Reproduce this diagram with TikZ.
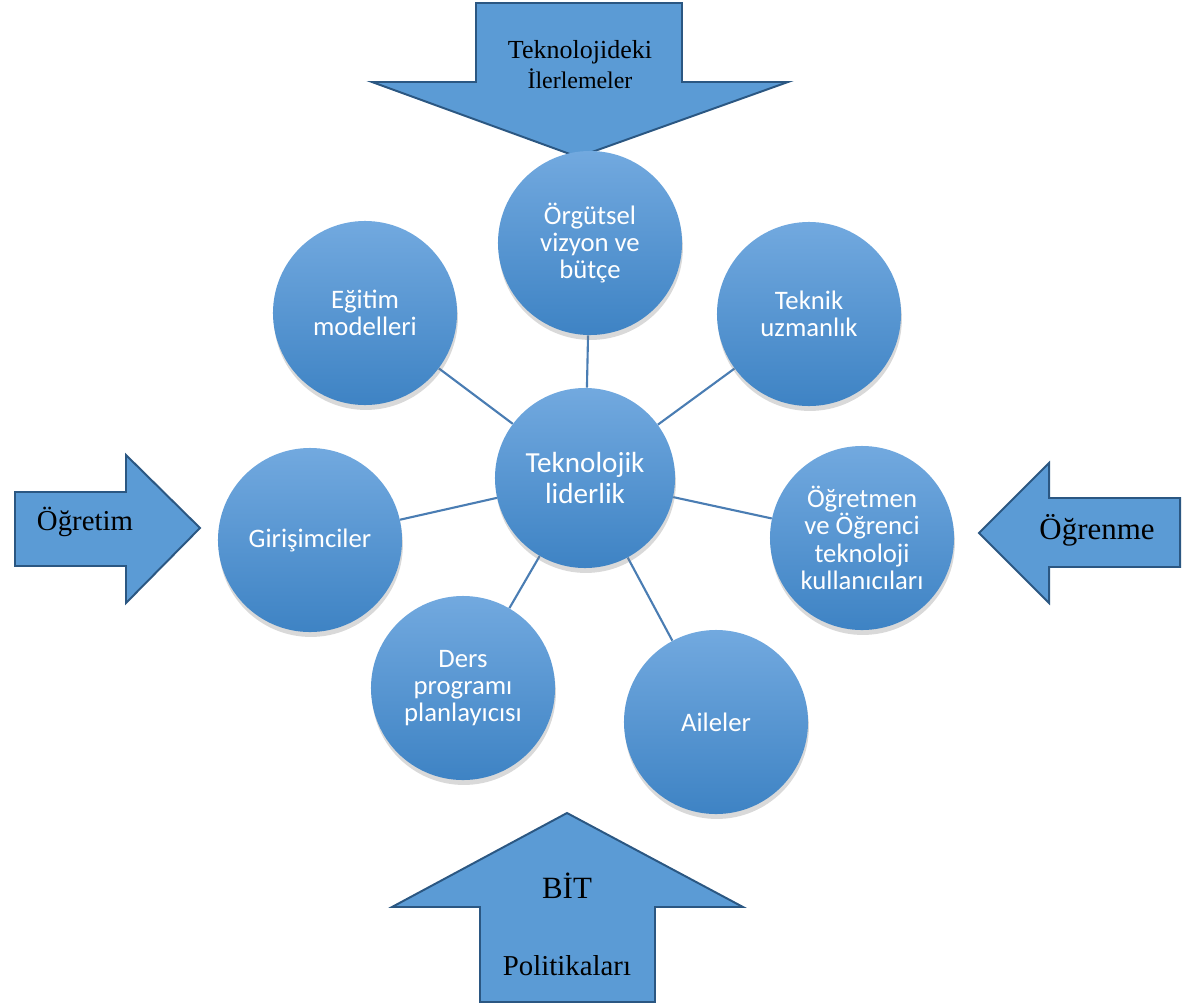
\documentclass[tikz,border=0pt]{standalone}
\usepackage{fontspec}
\setmainfont{Liberation Serif}
\newfontfamily\ballfont{Carlito}
\usetikzlibrary{shadows,shapes,arrows,positioning,backgrounds}

\definecolor{ballTop}{HTML}{72A9DF}
\definecolor{ballBottom}{HTML}{3E83C4}
\definecolor{spokeBlue}{HTML}{4A7DB3}
\definecolor{arrowFill}{HTML}{5B9BD5}
\definecolor{arrowLine}{HTML}{2B5782}

\tikzset{
  ball/.style={circle, minimum size=4.6cm, inner sep=0pt, align=center,
    top color=ballTop, bottom color=ballBottom, text=white,
    font=\ballfont\fontsize{19}{19.5}\selectfont,
    drop shadow={shadow xshift=0.6pt, shadow yshift=-3.5pt, opacity=0.3}},
  spoke/.style={draw=spokeBlue, line width=1.5pt},
  bigarrow/.style={fill=arrowFill, draw=arrowLine, line width=1.4pt, line join=miter},
  arrowtext/.style={align=center, inner sep=0pt, text=black}
}

\begin{document}
\begin{tikzpicture}[x=0.025cm, y=-0.025cm]
  \useasboundingbox (0,0) rectangle (1182,1005);

  % outer arrows
  \draw[bigarrow] (476,3) -- (682,3) -- (682,82) -- (788,82) -- (578,157)
    -- (372,82) -- (476,82) -- cycle;
  \draw[bigarrow] (15,492) -- (126,492) -- (126,455) -- (200,528)
    -- (126,603) -- (126,566) -- (15,566) -- cycle;
  \draw[bigarrow] (1180,498) -- (1049,498) -- (1049,463) -- (979,533)
    -- (1049,603) -- (1049,567) -- (1180,567) -- cycle;
  \draw[bigarrow] (567,813) -- (743,907) -- (655,907) -- (655,1002)
    -- (480,1002) -- (480,907) -- (392,907) -- cycle;

  \node[arrowtext, font=\fontsize{18.5}{21.3}\selectfont] (advances) at (580,65)
    {Teknolojideki\\{\fontsize{17}{21.3}\selectfont İlerlemeler}};
  \node[arrowtext, font=\fontsize{20.5}{24}\selectfont] (teaching) at (85,522) {Öğretim};
  \node[arrowtext, font=\fontsize{22}{26}\selectfont] (learning) at (1097,530) {Öğrenme};
  \node[arrowtext, font=\fontsize{22}{26}\selectfont] (bit) at (567,886) {BİT};
  \node[arrowtext, font=\fontsize{20.5}{24}\selectfont] (policies) at (567,966) {Politikaları};

  % circles
  \node[ball, minimum size=4.5cm, font=\ballfont\fontsize{20.7}{21.5}\selectfont] (leader) at (585,478) {Teknolojik\\liderlik};
  \node[ball] (vision) at (590,243) {Örgütsel\\vizyon ve\\bütçe};
  \node[ball] (models) at (365,313) {Eğitim\\modelleri};
  \node[ball] (expert) at (809,314) {Teknik\\uzmanlık};
  \node[ball] (founders) at (310,540) {Girişimciler};
  \node[ball] (users) at (862,538) {Öğretmen\\ve Öğrenci\\teknoloji\\kullanıcıları};
  \node[ball] (planner) at (463,688) {Ders\\programı\\planlayıcısı};
  \node[ball] (families) at (716,722) {Aileler};

  % spokes
  \begin{scope}[on background layer]
    \foreach \n in {vision,models,expert,founders,users,planner,families}
      \draw[spoke] (leader) -- (\n);
  \end{scope}
\end{tikzpicture}
\end{document}
